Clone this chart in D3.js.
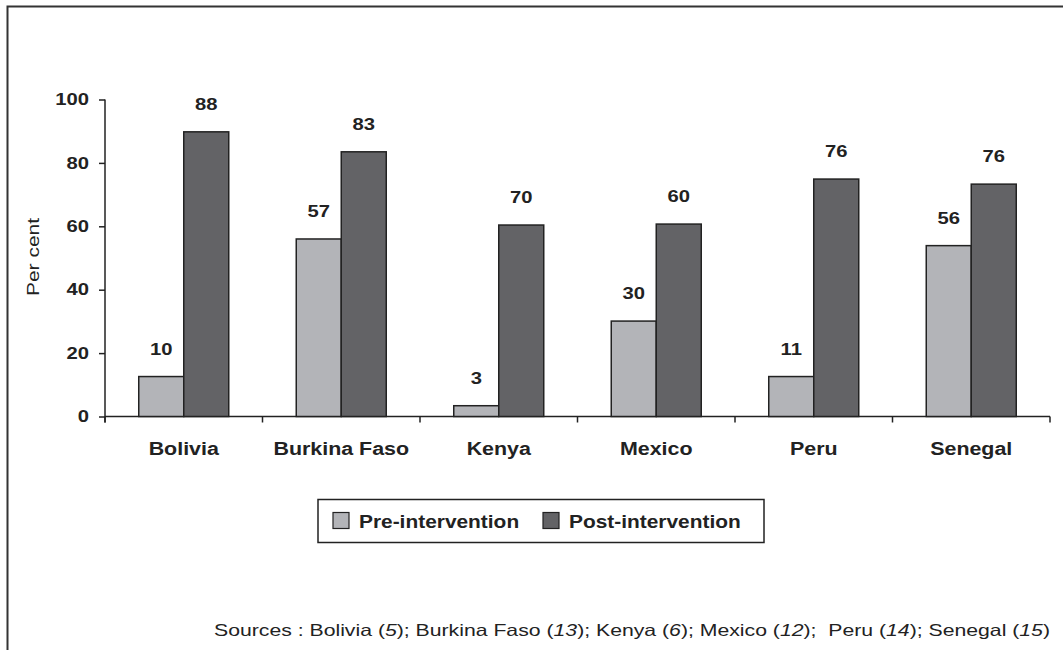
<!DOCTYPE html>
<html><head><meta charset="utf-8">
<script src="https://cdn.jsdelivr.net/npm/d3@7"></script>
<style>html,body{margin:0;padding:0;background:#fff;}svg{display:block;}</style>
</head><body>
<svg id="c" width="1063" height="650"></svg>
<script>
const categories = ["Bolivia","Burkina Faso","Kenya","Mexico","Peru","Senegal"];
const seriesNames = ["Pre-intervention","Post-intervention"];
const preValues = [12.6, 56, 3.4, 30.1, 12.6, 53.9];
const postValues = [89.8, 83.5, 60.4, 60.7, 74.9, 73.3];
const preLabels = ["10","57","3","30","11","56"];
const postLabels = ["88","83","70","60","76","76"];
const yTicks = [0,20,40,60,80,100];
const colors = ["#b3b4b8","#636366"];
const sources = [["Sources : Bolivia (",false],["5",true],["); Burkina Faso (",false],["13",true],["); Kenya (",false],["6",true],["); Mexico (",false],["12",true],[");  Peru (",false],["14",true],["); Senegal (",false],["15",true],[")",false]];

const svg = d3.select("#c");
const FONT = "'Liberation Sans', Arial, Helvetica, sans-serif";

function stretch(sel, sx){
  sel.each(function(){
    const t = d3.select(this);
    const x = +t.attr("x") || 0, y = +t.attr("y") || 0;
    t.attr("transform", `translate(${x},${y}) scale(${sx},1)`).attr("x",0).attr("y",0);
  });
}

// frame
svg.append("path").attr("d","M7.5,650 V6.5 H1063").attr("fill","none").attr("stroke","#333").attr("stroke-width",2);

const x0 = d3.scaleBand().domain(categories).range([105,1050]).paddingInner(0.4286).paddingOuter(0.2143);
const x1 = d3.scaleBand().domain(seriesNames).range([0,x0.bandwidth()]);
const y = d3.scaleLinear().domain([0,100]).range([416.5,99.5]);

// y axis
const yAxis = svg.append("g").attr("transform","translate(105,0)")
  .call(d3.axisLeft(y).tickValues(yTicks).tickSize(6).tickPadding(10));
yAxis.select(".domain").attr("d","M0,99.5 V422.5").attr("stroke","#222").attr("stroke-width",1.5);
yAxis.selectAll(".tick line").attr("stroke","#222").attr("stroke-width",1.5);
const yt = yAxis.selectAll(".tick text").attr("font-family",FONT).attr("font-weight","bold").attr("font-size",16.3).attr("fill","#222");
stretch(yt, 1.24);

// x axis line + ticks at boundaries
const bounds = d3.range(categories.length+1).map(i => 105 + i*x0.step());
svg.append("line").attr("x1",105).attr("x2",1050).attr("y1",y(0)).attr("y2",y(0)).attr("stroke","#222").attr("stroke-width",1.5);
svg.selectAll(".xt").data(bounds).enter().append("line")
  .attr("x1",d=>d).attr("x2",d=>d).attr("y1",y(0)).attr("y2",y(0)+6).attr("stroke","#222").attr("stroke-width",1.5);
const cats = svg.selectAll(".cat").data(categories).enter().append("text")
  .attr("x",d=>x0(d)+x0.bandwidth()/2).attr("y",454.5).attr("text-anchor","middle")
  .attr("font-family",FONT).attr("font-weight","bold").attr("font-size",18).attr("fill","#222").text(d=>d);
stretch(cats, 1.19);

// y title
svg.append("text").attr("transform","translate(39,257) rotate(-90)").attr("text-anchor","middle")
  .attr("font-family",FONT).attr("font-size",16.5).attr("fill","#222")
  .attr("textLength",78).attr("lengthAdjust","spacingAndGlyphs").text("Per cent");

// bars
const series = [preValues, postValues];
const labels = [preLabels, postLabels];
series.forEach((vals,si)=>{
  const g = svg.append("g");
  g.selectAll("rect").data(vals).enter().append("rect")
    .attr("x",(d,i)=>x0(categories[i])+x1(seriesNames[si]))
    .attr("y",d=>y(d)).attr("width",x1.bandwidth()).attr("height",d=>y(0)-y(d))
    .attr("fill",colors[si]).attr("stroke","#222").attr("stroke-width",1.5);
  const vt = g.selectAll("text").data(vals).enter().append("text")
    .attr("x",(d,i)=>x0(categories[i])+x1(seriesNames[si])+x1.bandwidth()/2)
    .attr("y",d=>y(d)-22).attr("text-anchor","middle")
    .attr("font-family",FONT).attr("font-weight","bold").attr("font-size",16.3).attr("fill","#222")
    .text((d,i)=>labels[si][i]);
  stretch(vt, 1.24);
});

// legend
svg.append("rect").attr("x",318).attr("y",499.5).attr("width",446).attr("height",43)
  .attr("fill","none").attr("stroke","#222").attr("stroke-width",1.5);
const legX = [333, 543];
seriesNames.forEach((n,i)=>{
  svg.append("rect").attr("x",legX[i]).attr("y",512.5).attr("width",16).attr("height",16)
    .attr("fill",colors[i]).attr("stroke","#222").attr("stroke-width",1.2);
  const lt = svg.append("text").attr("x",legX[i]+26).attr("y",527.5).attr("font-family",FONT).attr("font-weight","bold")
    .attr("font-size",18.5).attr("fill","#222").text(n);
  stretch(lt, 1.13);
});

// sources
const st = svg.append("text").attr("x",214).attr("y",636)
  .attr("font-family",FONT).attr("font-size",16.5).attr("fill","#222")
  .style("white-space","pre").attr("xml:space","preserve")
  .attr("textLength",836).attr("lengthAdjust","spacingAndGlyphs");
sources.forEach(([t,it])=>{ st.append("tspan").attr("font-style",it?"italic":"normal").style("white-space","pre").text(t); });
</script>
</body></html>
